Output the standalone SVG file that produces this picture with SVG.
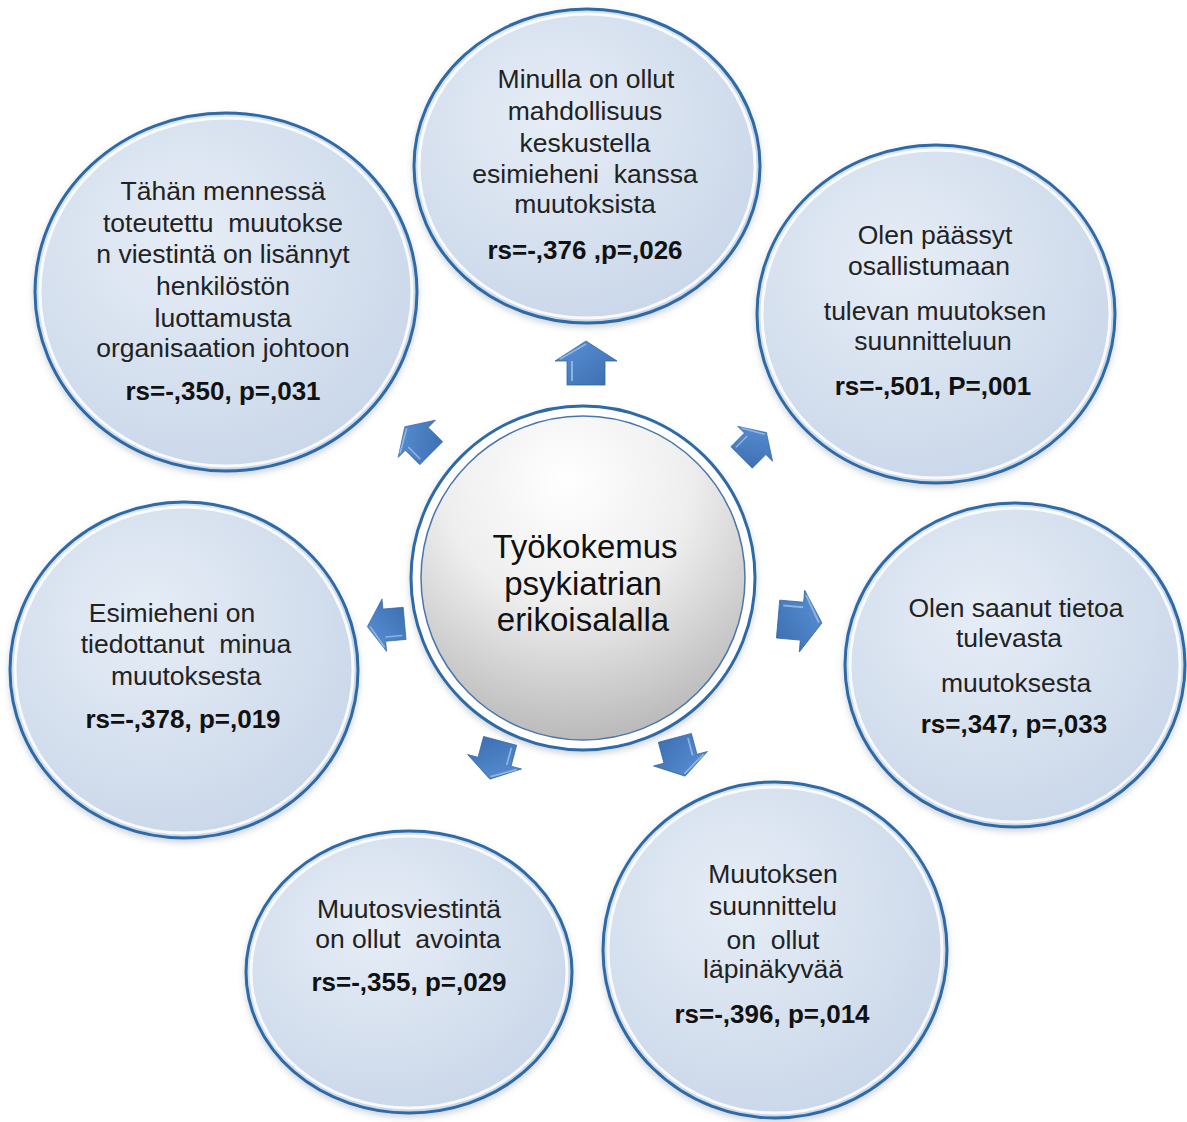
<svg xmlns="http://www.w3.org/2000/svg" width="1187" height="1122" viewBox="0 0 1187 1122">
<style>
.t{font-family:"Liberation Sans",Arial,sans-serif;font-size:26.5px;fill:#222;text-anchor:middle}
.b{font-family:"Liberation Sans",Arial,sans-serif;font-size:26px;font-weight:bold;fill:#111;text-anchor:middle}
.c{font-family:"Liberation Sans",Arial,sans-serif;font-size:33px;fill:#111;text-anchor:middle}
.node{fill:url(#blueFill);stroke:#2f6aa5;stroke-width:3;filter:url(#sh)}
.rim{fill:none;stroke:#ffffff;stroke-width:3;opacity:0.85}
.arrow{fill:url(#arrFill);stroke:#3465a4;stroke-width:0.8}
.hl{fill:none;stroke:#9cc0ea;stroke-width:2;opacity:0.8}
</style>
<defs>
<radialGradient id="blueFill" cx="0.4" cy="0.35" r="0.75">
<stop offset="0" stop-color="#e6edf6"/>
<stop offset="1" stop-color="#c7d5e8"/>
</radialGradient>
<radialGradient id="grayFill" cx="0.45" cy="0.2" r="0.85">
<stop offset="0" stop-color="#ffffff"/>
<stop offset="0.45" stop-color="#eeeeee"/>
<stop offset="1" stop-color="#b4b4b4"/>
</radialGradient>
<linearGradient id="arrFill" x1="0" y1="0" x2="1" y2="1">
<stop offset="0" stop-color="#5b92d6"/>
<stop offset="1" stop-color="#3b6db0"/>
</linearGradient>
<filter id="sh" x="-10%" y="-10%" width="120%" height="120%">
<feDropShadow dx="0" dy="3" stdDeviation="3" flood-color="#6b7f99" flood-opacity="0.35"/>
</filter>
<g id="arr">
<path class="arrow" d="M0,-22 L31,-2 L19,-2 L19,22 L-19,22 L-19,-2 L-31,-2 Z"/>
<path class="hl" d="M-14,-2 L-14,18 M-26,-4 L0,-19"/>
</g>
</defs>
<rect width="1187" height="1122" fill="#ffffff"/>

<g id="connectors">
<use href="#arr" transform="translate(586,363)"/>
<use href="#arr" transform="translate(418,440) rotate(-45) scale(0.85)"/>
<use href="#arr" transform="translate(754,445) rotate(45) scale(0.8)"/>
<use href="#arr" transform="translate(800,621) rotate(95)"/>
<use href="#arr" transform="translate(386,625) rotate(265) scale(0.85)"/>
<use href="#arr" transform="translate(495,760) rotate(195) scale(0.9)"/>
<use href="#arr" transform="translate(680,757) rotate(165) scale(0.9)"/>
</g>

<g id="center">
<circle cx="583" cy="578" r="172" fill="#ffffff" stroke="#2f6aa5" stroke-width="3" filter="url(#sh)"/>
<circle cx="583" cy="578" r="162" fill="url(#grayFill)" stroke="#4a76ad" stroke-width="1.5"/>
<text class="c" x="585" y="558">Työkokemus</text>
<text class="c" x="583" y="595">psykiatrian</text>
<text class="c" x="583" y="631">erikoisalalla</text>
</g>

<g id="n-top">
<ellipse class="node" cx="587" cy="166" rx="173" ry="157"/>
<ellipse class="rim" cx="587" cy="166" rx="168" ry="152"/>
<text class="t" x="586" y="88">Minulla on ollut</text>
<text class="t" x="585" y="120">mahdollisuus</text>
<text class="t" x="585" y="152">keskustella</text>
<text class="t" x="585" y="183" xml:space="preserve">esimieheni  kanssa</text>
<text class="t" x="585" y="213">muutoksista</text>
<text class="b" x="585" y="259">rs=-,376 ,p=,026</text>
</g>

<g id="n-topleft">
<ellipse class="node" cx="226" cy="292" rx="191" ry="179"/>
<ellipse class="rim" cx="226" cy="292" rx="186" ry="174"/>
<text class="t" x="223" y="200">Tähän mennessä</text>
<text class="t" x="223" y="232" xml:space="preserve">toteutettu  muutokse</text>
<text class="t" x="223" y="263">n viestintä on lisännyt</text>
<text class="t" x="223" y="295">henkilöstön</text>
<text class="t" x="223" y="327">luottamusta</text>
<text class="t" x="223" y="357">organisaation johtoon</text>
<text class="b" x="223" y="400">rs=-,350, p=,031</text>
</g>

<g id="n-topright">
<ellipse class="node" cx="936" cy="314" rx="179" ry="169"/>
<ellipse class="rim" cx="936" cy="314" rx="174" ry="164"/>
<text class="t" x="935" y="244">Olen päässyt</text>
<text class="t" x="929" y="275">osallistumaan</text>
<text class="t" x="935" y="320">tulevan muutoksen</text>
<text class="t" x="933" y="350">suunnitteluun</text>
<text class="b" x="933" y="395">rs=-,501, P=,001</text>
</g>

<g id="n-right">
<ellipse class="node" cx="1015" cy="665" rx="170" ry="162"/>
<ellipse class="rim" cx="1015" cy="665" rx="165" ry="157"/>
<text class="t" x="1016" y="617">Olen saanut tietoa</text>
<text class="t" x="1009" y="647">tulevasta</text>
<text class="t" x="1016" y="692">muutoksesta</text>
<text class="b" x="1014" y="733">rs=,347, p=,033</text>
</g>

<g id="n-left">
<ellipse class="node" cx="184" cy="670" rx="174" ry="168"/>
<ellipse class="rim" cx="184" cy="670" rx="169" ry="163"/>
<text class="t" x="172" y="622">Esimieheni on</text>
<text class="t" x="186" y="653" xml:space="preserve">tiedottanut  minua</text>
<text class="t" x="186" y="685">muutoksesta</text>
<text class="b" x="183" y="728">rs=-,378, p=,019</text>
</g>

<g id="n-bottomleft">
<ellipse class="node" cx="409" cy="972" rx="163" ry="141"/>
<ellipse class="rim" cx="409" cy="972" rx="158" ry="136"/>
<text class="t" x="409" y="918">Muutosviestintä</text>
<text class="t" x="408" y="948" xml:space="preserve">on ollut  avointa</text>
<text class="b" x="409" y="991">rs=-,355, p=,029</text>
</g>

<g id="n-bottomright">
<ellipse class="node" cx="775" cy="950" rx="172" ry="168"/>
<ellipse class="rim" cx="775" cy="950" rx="167" ry="163"/>
<text class="t" x="773" y="883">Muutoksen</text>
<text class="t" x="773" y="915">suunnittelu</text>
<text class="t" x="773" y="949" xml:space="preserve">on  ollut</text>
<text class="t" x="773" y="978">läpinäkyvää</text>
<text class="b" x="772" y="1023">rs=-,396, p=,014</text>
</g>
</svg>
